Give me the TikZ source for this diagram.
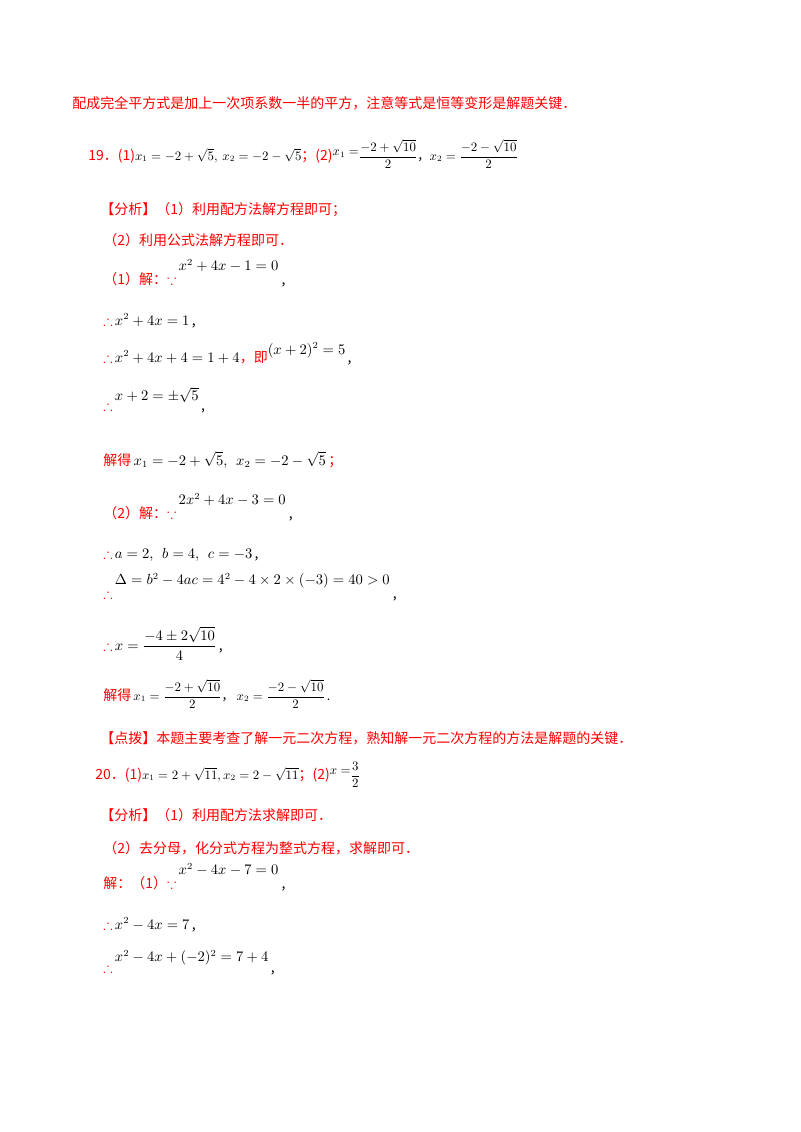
\documentclass[tikz,border=0pt]{standalone}
\usepackage{amsmath,amssymb,graphicx}
\usepackage{fontspec}
\setmainfont{Noto Sans CJK SC}
\begin{document}
\begin{tikzpicture}[x=0.75pt,y=-0.75pt,
  ln/.style={anchor=base west,inner sep=0pt,font=\fontsize{10.5}{12}\selectfont}]
\newcommand{\R}[1]{\textcolor{red}{#1}}
\newcommand{\sm}[1]{\scalebox{0.88}{#1}}
\fill[white] (0,0) rectangle (800,1132);
\node[ln] (l1) at (72,108) {\R{配成完全平方式是加上一次项系数一半的平方，注意等式是恒等变形是解题关键．}};
\node[ln] (l2) at (88,160) {\R{19．(1)}\sm{$x_1=-2+\sqrt5,\ x_2=-2-\sqrt5$}\R{；(2)}\sm{\raisebox{4pt}{$x_1=$}$\dfrac{-2+\sqrt{10}}{2}$，$x_2=\dfrac{-2-\sqrt{10}}{2}$}};
\node[ln] (l3) at (100,214) {\R{【分析】（1）利用配方法解方程即可；}};
\node[ln] (l4) at (103,245) {\R{（2）利用公式法解方程即可．}};
\node[ln] (l5) at (103,284) {\R{（1）解：$\because$}\,\raisebox{10pt}{$x^2+4x-1=0$}\ ,};
\node[ln] (l6) at (103,325) {\R{$\therefore$}\,$x^2+4x=1$\,,};
\node[ln] (l7) at (103,362) {\R{$\therefore$}\,$x^2+4x+4=1+4$\R{，即}\raisebox{6pt}{$(x+2)^2=5$}\,,};
\node[ln] (l8) at (103,410) {\R{$\therefore$}\,\raisebox{7pt}{$x+2=\pm\sqrt5$}\,,};
\node[ln] (l9) at (103,465) {\R{解得}$\,x_1=-2+\sqrt5,\ \ x_2=-2-\sqrt5$\,\R{；}};
\node[ln] (l10) at (103,518) {\R{（2）解：$\because$}\,\raisebox{10pt}{$2x^2+4x-3=0$}\ ,};
\node[ln] (l11) at (103,558) {\R{$\therefore$}\,$a=2,\ \ b=4,\ \ c=-3$\,,};
\node[ln] (l12) at (103,598) {\R{$\therefore$}\,\raisebox{10pt}{$\Delta=b^2-4ac=4^2-4\times2\times(-3)=40>0$}\ ,};
\node[ln] (l13) at (103,650) {\R{$\therefore$}\,$x=\dfrac{-4\pm2\sqrt{10}}{4}$\,,};
\node[ln] (l14) at (103,700) {\R{解得}\sm{$\,x_1=\dfrac{-2+\sqrt{10}}{2}$，$\ x_2=\dfrac{-2-\sqrt{10}}{2}$\,.}};
\node[ln] (l15) at (100,743) {\R{【点拨】本题主要考查了解一元二次方程，熟知解一元二次方程的方法是解题的关键．}};
\node[ln] (l16) at (95,779) {\R{20．(1)}\sm{$x_1=2+\sqrt{11},x_2=2-\sqrt{11}$}\R{；(2)}\sm{\raisebox{4pt}{$x=$}$\dfrac32$}};
\node[ln] (l17) at (100,820) {\R{【分析】（1）利用配方法求解即可．}};
\node[ln] (l18) at (103,853) {\R{（2）去分母，化分式方程为整式方程，求解即可．}};
\node[ln] (l19) at (103,888) {\R{解：（1）$\because$}\,\raisebox{10pt}{$x^2-4x-7=0$}\ ,};
\node[ln] (l20) at (103,929) {\R{$\therefore$}\,$x^2-4x=7$\,,};
\node[ln] (l21) at (103,972) {\R{$\therefore$}\,\raisebox{8pt}{$x^2-4x+(-2)^2=7+4$}\,,};
\end{tikzpicture}
\end{document}
